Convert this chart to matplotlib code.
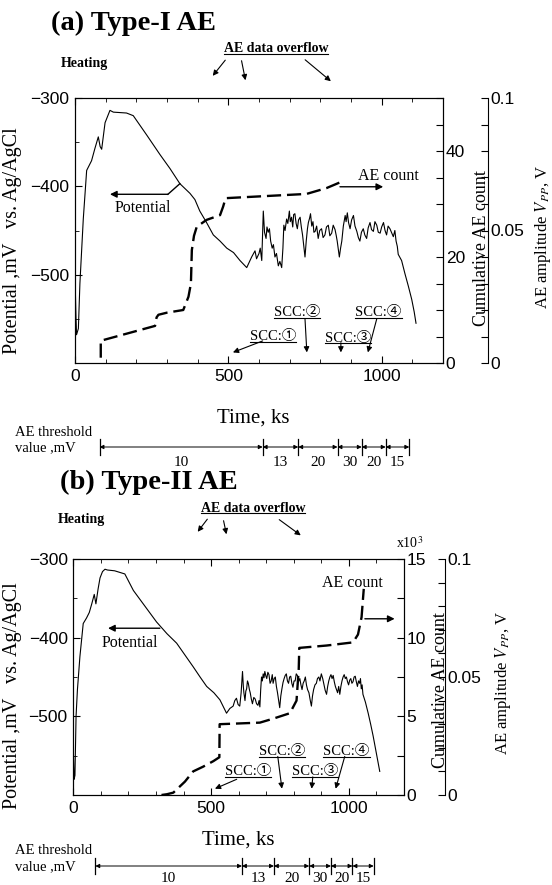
import numpy as np
import matplotlib
matplotlib.use("Agg")
import matplotlib.pyplot as plt
from matplotlib.lines import Line2D
from matplotlib.patches import FancyArrowPatch
from matplotlib.transforms import blended_transform_factory

plt.rcParams["font.family"] = ["Liberation Sans", "DejaVu Sans"]
plt.rcParams["mathtext.fontset"] = "stix"
SERIF = ["Liberation Serif", "Noto Sans CJK JP", "DejaVu Sans"]

W, H = 552, 885

# ── Panel (a) Type-I AE ──────────────────────────────────────────────────────
# potential: heating / decay part, then the noisy plateau, then the final drop
pot_a_t = [0, 3, 5, 11, 16, 27, 38, 54, 65, 76,
           82, 87, 98, 114, 125, 168, 190, 212, 234, 277,
           310, 342, 360, 375, 391, 407, 429, 451, 473, 495,
           517, 538, 560, 568, 576, 587, 592,
           600, 604, 609, 614, 618, 623, 626, 630, 634, 638,
           643, 647, 652, 657, 663, 668, 674, 678, 681, 685,
           690, 694, 699, 702, 706, 710, 713, 717, 721, 725,
           729, 734, 738, 742, 746, 750, 754, 758, 761, 765,
           768, 772, 776, 779, 783, 788, 793, 798, 804, 809,
           815, 820, 826, 831, 837, 842, 848, 852, 855, 859,
           862, 866, 870, 875, 881, 884, 888, 892, 897, 902,
           908, 913, 919, 924, 929, 934, 940, 945, 951, 956,
           962, 967, 973, 978, 984, 989, 995, 1000, 1006, 1011,
           1016, 1021, 1027, 1032, 1038, 1043, 1047, 1051, 1054,
           1065, 1076, 1087, 1098, 1106, 1112]
pot_a_v = [-501, -546, -568, -561, -510, -437, -382, -371, -357, -344,
           -355, -358, -328, -314, -316, -317, -320, -331, -342, -364,
           -380, -397, -403, -408, -415, -428, -441, -455, -462, -470,
           -475, -484, -492, -486, -480, -473, -482,
           -476, -470, -484, -428, -452, -459, -446, -452, -448, -462,
           -470, -466, -480, -476, -490, -485, -492, -470, -444, -450,
           -437, -442, -428, -440, -435, -446, -432, -431, -442, -448,
           -438, -435, -446, -455, -468, -480, -462, -448, -441, -436,
           -431, -445, -440, -452, -451, -445, -459, -450, -448, -458,
           -455, -446, -444, -456, -453, -444, -449, -456, -462, -472,
           -480, -470, -462, -445, -433, -440, -430, -441, -448, -438,
           -433, -445, -451, -458, -462, -452, -448, -455, -459, -447,
           -441, -449, -451, -440, -444, -452, -453, -446, -441, -450,
           -455, -445, -448, -452, -457, -450, -462, -468, -477,
           -484, -499, -513, -528, -542, -555]
cnt_a_t = [84, 84, 261, 266, 272, 300, 353, 370, 378, 381, 388, 397, 429, 473, 483, 491, 755, 820, 869]
cnt_a_v = [1.0, 4.2, 7.0, 8.6, 9.1, 9.5, 10.0, 12.5, 15.0, 21.3, 24.0, 25.7, 27.0, 27.9, 29.5, 31.1, 31.9, 33.0, 34.2]

# ── Panel (b) Type-II AE ─────────────────────────────────────────────────────
pot_b_t = [0, 3, 6, 10, 15, 24, 36, 48, 58, 67,
           76, 82, 90, 97, 106, 115, 124, 150, 187, 218,
           260, 302, 340, 375, 405, 435, 460, 484, 510, 532,
           556, 568, 580, 586, 592,
           598, 604, 609, 614, 617, 619, 623, 626, 629, 632,
           635, 639, 642, 646, 650, 655, 660, 665, 670, 674,
           677, 680, 683, 686, 689, 692, 695, 699, 702, 706,
           710, 714, 718, 722, 725, 729, 733, 737, 741, 745,
           749, 753, 757, 761, 765, 769, 773, 777, 781, 785,
           789, 793, 797, 801, 805, 809, 813, 817, 822, 826,
           830, 834, 838, 842, 846, 850, 855, 860, 864, 868,
           872, 877, 882, 886, 891, 895, 900, 905, 910, 914,
           919, 923, 927, 931, 935, 939, 943, 947, 951, 955,
           959, 963, 967, 971, 975, 979, 983, 987, 991, 995,
           999, 1003, 1007, 1011, 1015, 1019, 1023, 1027, 1031, 1035,
           1039, 1042, 1045, 1048, 1051,
           1060, 1070, 1079, 1088, 1097, 1106, 1112]
pot_b_v = [-540, -580, -575, -500, -466, -424, -382, -375, -368, -357,
           -345, -357, -338, -324, -316, -313, -314, -315, -319, -340,
           -360, -380, -395, -407, -422, -437, -450, -462, -470, -479,
           -496, -490, -487, -480, -477,
           -485, -487, -470, -443, -462, -470, -480, -468, -465, -455,
           -458, -466, -470, -478, -484, -476, -478, -484, -486, -480,
           -488, -466, -450, -455, -446, -451, -443, -449, -452, -444,
           -447, -458, -455, -447, -458, -452, -450, -462, -470, -480,
           -489, -474, -465, -457, -452, -448, -446, -455, -458, -450,
           -449, -458, -463, -455, -455, -446, -448, -456, -452, -460,
           -466, -458, -455, -450, -460, -466, -470, -480, -487, -474,
           -466, -460, -458, -452, -450, -455, -446, -452, -460, -467,
           -472, -462, -455, -450, -447, -452, -448, -456, -462, -466,
           -470, -462, -472, -462, -455, -450, -447, -452, -450, -456,
           -460, -454, -452, -458, -456, -450, -449, -456, -462, -455,
           -458, -452, -465, -460, -472,
           -482, -496, -510, -525, -542, -559, -570]
cnt_b_t = [320, 340, 363, 405, 435, 471, 508, 530, 531, 677, 725, 786, 810, 818, 820, 919, 1015, 1033, 1046, 1054]
cnt_b_v = [0.0, 0.05, 0.15, 0.85, 1.5, 1.8, 2.15, 2.4, 4.5, 4.6, 4.85, 5.2, 6.0, 8.0, 9.35, 9.5, 9.7, 10.2, 11.3, 13.1]

assert len(pot_a_t) == len(pot_a_v) and len(pot_b_t) == len(pot_b_v)

# AE threshold periods (ks) and values (mV), same schedule for both tests
thr_edges = [80, 612, 728, 856, 935, 1013, 1090]
thr_values = [10, 13, 20, 30, 20, 15]

scc_labels = ["SCC:\u2460", "SCC:\u2461", "SCC:\u2462", "SCC:\u2463"]


def fx(x):
    return x / W


def fy(y):
    return 1 - y / H


def underline(fig, txt, lw=0.8):
    r = fig.canvas.get_renderer()
    bb = txt.get_window_extent(renderer=r).transformed(fig.transFigure.inverted())
    y0 = bb.y0 + 0.0015
    fig.add_artist(Line2D([bb.x0, bb.x1], [y0, y0], transform=fig.transFigure,
                          color="black", lw=lw))


def draw_panel(fig, rect, pot_t, pot_v, cnt_t, cnt_v, ylim, cnt_max, cnt_step, cnt_lab,
               pot_note, cnt_note, scc, thr_y, ylab_pos, c_lab_pos, a_lab_pos):
    ax = fig.add_axes(rect)
    ax.plot(pot_t, pot_v, color="black", lw=0.8)
    ax.set_xlim(0, 1200)
    ax.set_ylim(*ylim)
    ax.set_xticks([0, 500, 1000])
    ax.set_xticks(np.arange(0, 1201, 100), minor=True)
    ax.set_yticks([-500, -400, -300])
    ax.set_yticks(np.arange(-600, -299, 50), minor=True)
    ax.tick_params(which="both", direction="in", top=True, labelsize=12.5, pad=4)
    ax.tick_params(which="major", length=5)
    ax.tick_params(which="minor", length=3)
    ax.set_ylabel("Potential ,mV   vs. Ag/AgCl", family=SERIF, fontsize=14.5)
    ax.yaxis.set_label_coords(*ylab_pos)

    ax2 = ax.twinx()
    ax2.plot(cnt_t, cnt_v, color="black", lw=1.7, dashes=(6, 2.5))
    ax2.set_ylim(0, cnt_max)
    ticks = np.arange(0, cnt_max + 0.01, cnt_step)
    ax2.set_yticks(ticks)
    ax2.set_yticklabels([("%g" % t) if t in cnt_lab else "" for t in ticks])
    ax2.tick_params(direction="in", length=5, labelsize=12.5, pad=2)
    ax2.set_ylabel("Cumulative AE count", family=SERIF, fontsize=13)
    ax2.yaxis.set_label_coords(*c_lab_pos)

    ax3 = ax.twinx()
    ax3.spines["right"].set_position(("axes", a_lab_pos[2]))
    for s in ["top", "bottom", "left"]:
        ax3.spines[s].set_visible(False)
    ax3.set_ylim(0, 0.1)
    ax3.set_yticks(np.arange(0, 0.1001, 0.01))
    ax3.set_yticklabels(["0", "", "", "", "", "0.05", "", "", "", "", "0.1"])
    ax3.tick_params(direction="in", length=5, labelsize=12.5, pad=2)
    ax3.set_ylabel("AE amplitude $V_{PP}$, V", family=SERIF, fontsize=12)
    ax3.yaxis.set_label_coords(a_lab_pos[0], a_lab_pos[1])

    # Potential / AE count labels with arrows
    (pt, pv), (tail, head, touch) = pot_note
    ax.text(pt, pv, "Potential", family=SERIF, fontsize=11.5, ha="center", va="center")
    ax.annotate("", xy=head, xytext=tail,
                arrowprops=dict(arrowstyle="-|>", color="black", lw=1.0,
                                mutation_scale=10, shrinkA=0, shrinkB=0))
    if touch is not None:
        ax.plot([tail[0], touch[0]], [tail[1], touch[1]], color="black", lw=1.0)
    (ct, cv), (ctail, chead) = cnt_note
    ax.text(ct, cv, "AE count", family=SERIF, fontsize=11.5, ha="center", va="center")
    ax.annotate("", xy=chead, xytext=ctail,
                arrowprops=dict(arrowstyle="-|>", color="black", lw=1.0,
                                mutation_scale=10, shrinkA=0, shrinkB=0))

    # SCC markers
    scc_texts = []
    for lab, (txy, a0, a1) in zip(scc_labels, scc):
        t = ax.text(txy[0], txy[1], lab, family=SERIF, fontsize=10.5,
                    ha="center", va="center")
        scc_texts.append(t)
        ax.annotate("", xy=a1, xytext=a0,
                    arrowprops=dict(arrowstyle="-|>", color="black", lw=0.8,
                                    mutation_scale=8, shrinkA=0, shrinkB=0))

    # AE threshold schedule below the axis (time in data coords)
    tr = blended_transform_factory(ax.transData, fig.transFigure)
    ybar, ylab = thr_y
    for e in thr_edges:
        ax.plot([e, e], [ybar - 0.009, ybar + 0.009], transform=tr, color="black",
                lw=0.9, clip_on=False)
    for a, b, v in zip(thr_edges[:-1], thr_edges[1:], thr_values):
        ax.annotate("", xy=(b, ybar), xytext=(a, ybar), xycoords=tr, textcoords=tr,
                    arrowprops=dict(arrowstyle="<|-|>", color="black", lw=0.7,
                                    mutation_scale=6, shrinkA=0, shrinkB=0),
                    annotation_clip=False)
        ax.text((a + b) / 2, ylab, str(v), transform=tr, family=SERIF, fontsize=11,
                ha="center", va="center")
    return ax, scc_texts


fig = plt.figure(figsize=(W / 100, H / 100), dpi=100)

# panel (a)
ax_a, scc_a = draw_panel(
    fig, [fx(75), fy(363), (443 - 75) / W, (363 - 98) / H],
    pot_a_t, pot_a_v, cnt_a_t, cnt_a_v, (-590, -300), 50, 5, [0, 20, 40],
    ((222, -424), ((303, -409), (114, -409), (342, -397))),
    ((1022, -388), ((864, -400.5), (1005, -400.5))),
    [((646, -570), (612, -575), (515, -588)),
     ((724, -543), (750, -550), (756, -588)),
     ((890, -572), (867, -577), (867, -588)),
     ((990, -543), (984, -550), (955, -588))],
    (fy(447), fy(462)),
    (-0.145, 0.46), (1.082, 0.434), (1.245, 0.475, 1.122))

# panel (b)
ax_b, scc_b = draw_panel(
    fig, [fx(73.3), fy(795), (404 - 73.3) / W, (795 - 559) / H],
    pot_b_t, pot_b_v, cnt_b_t, cnt_b_v, (-600, -300), 15, 2.5, [0, 5, 10, 15],
    ((206, -407), ((314, -388), (126, -388), None)),
    ((1014, -331), ((1058, -376), (1166, -376))),
    [((633, -570), (593, -580), (514, -592)),
     ((757, -545), (742, -551), (757, -592)),
     ((876, -570), (869, -577), (865, -592)),
     ((992, -545), (985, -551), (952, -592))],
    (fy(866), fy(879)),
    (-0.155, 0.42), (1.084, 0.445), (1.269, 0.475, 1.124))

# headings and notes
texts_ul = []
for title, (tx, ty), (hx, hy), (ox, oy), arrows, (xl, yl), (al, av1, av2) in [
    ("(a) Type-I AE", (51, 23), (61, 63), (276, 49),
     [((227, 58), (211, 78)), ((241, 58), (246, 83)), ((303, 58), (333, 83))],
     (253, 418), (15, 432, 448)),
    ("(b) Type-II AE", (60, 482), (58, 520), (253, 508),
     [((209, 517), (196, 534)), ((223, 518), (227, 537)), ((277, 518), (303, 537))],
     (238, 840), (15, 851, 867)),
]:
    fig.text(fx(tx), fy(ty), title, family=SERIF, fontsize=20.5, weight="bold",
             ha="left", va="center")
    fig.text(fx(hx), fy(hy), "Heating", family=SERIF, fontsize=10, weight="bold",
             ha="left", va="center")
    t = fig.text(fx(ox), fy(oy), "AE data overflow", family=SERIF, fontsize=10,
                 weight="bold", ha="center", va="center")
    texts_ul.append(t)
    for (x0, y0), (x1, y1) in arrows:
        fig.add_artist(FancyArrowPatch(
            (fx(x0), fy(y0)), (fx(x1), fy(y1)), transform=fig.transFigure,
            arrowstyle="-|>", mutation_scale=8, lw=0.8, color="black"))
    fig.text(fx(xl), fy(yl), "Time, ks", family=SERIF, fontsize=15,
             ha="center", va="center")
    fig.text(fx(al), fy(av1), "AE threshold", family=SERIF, fontsize=10.5,
             ha="left", va="center")
    fig.text(fx(al), fy(av2), "value ,mV", family=SERIF, fontsize=10.5,
             ha="left", va="center")

fig.text(fx(396), fy(543), r"x10$^3$", family=SERIF, fontsize=10, ha="left", va="center")

fig.canvas.draw()
for t in texts_ul + scc_a + scc_b:
    underline(fig, t, lw=0.8)

fig.savefig("out.png", dpi=100)
